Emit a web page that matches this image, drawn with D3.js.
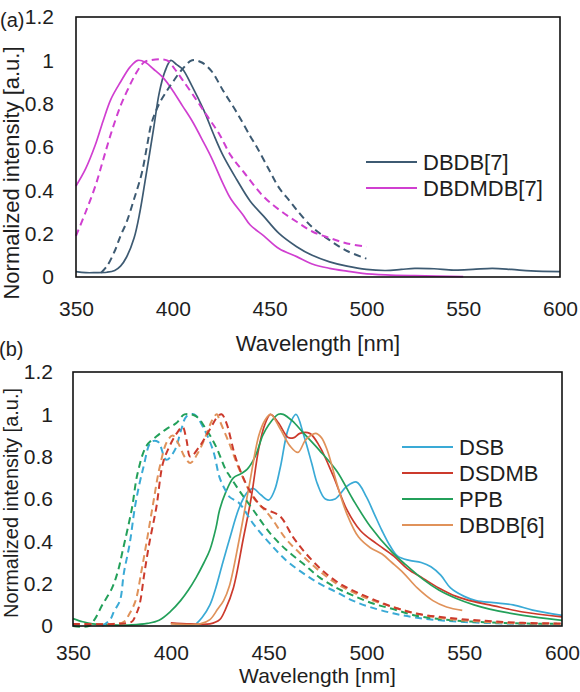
<!DOCTYPE html>
<html><head><meta charset="utf-8">
<script src="https://cdn.jsdelivr.net/npm/d3@7"></script>
<style>
body{margin:0;background:#fff}
svg{display:block}
text{font-family:"Liberation Sans",Arial,Helvetica,sans-serif;fill:#1e1e1e}
</style>
</head><body>
<svg id="chart" width="580" height="692"></svg>
<script>
// ---------- tick values ----------
const xTicks = [350, 400, 450, 500, 550, 600];
const yTicks = [0, 0.2, 0.4, 0.6, 0.8, 1, 1.2];
const xTitle = "Wavelength [nm]";
const yTitle = "Normalized intensity [a.u.]";

// ---------- panel (a) data : [wavelength, intensity] ----------
const dbdb7Solid = [[350,0.025],[355,0.02],[360,0.02],[366,0.022],[370,0.03],[373,0.05],[376,0.09],[380,0.18],[383,0.30],[386,0.46],[390,0.68],[393,0.85],[396,0.95],[399,1.0],[402,0.98],[405,0.96],[410,0.88],[416,0.77],[421,0.66],[426,0.56],[433,0.45],[440,0.35],[447,0.28],[455,0.20],[464,0.14],[472,0.10],[481,0.07],[490,0.05],[500,0.035],[510,0.03],[518,0.035],[525,0.04],[535,0.038],[545,0.032],[555,0.035],[565,0.04],[575,0.035],[585,0.028],[600,0.025]];
const dbdb7Dash = [[363,0.02],[366,0.05],[370,0.12],[373,0.19],[376,0.25],[380,0.36],[384,0.48],[387,0.62],[389,0.71],[393,0.80],[397,0.86],[400,0.90],[405,0.96],[410,1.0],[415,0.99],[420,0.95],[426,0.86],[433,0.76],[440,0.65],[444,0.59],[450,0.49],[455,0.41],[460,0.355],[464,0.31],[472,0.23],[481,0.17],[490,0.12],[500,0.085]];
const dbdmdb7Solid = [[350,0.42],[355,0.50],[360,0.61],[364,0.72],[368,0.82],[373,0.90],[378,0.97],[382,1.0],[386,0.99],[390,0.96],[395,0.92],[400,0.86],[405,0.79],[410,0.72],[416,0.62],[420,0.55],[426,0.43],[430,0.36],[436,0.29],[440,0.24],[447,0.19],[455,0.13],[464,0.094],[472,0.06],[481,0.04],[490,0.027],[498,0.017],[510,0.01],[525,0.006],[550,0.002]];
const dbdmdb7Dash = [[350,0.19],[355,0.30],[360,0.42],[364,0.54],[368,0.66],[373,0.79],[377,0.87],[381,0.94],[385,0.99],[388,1.0],[397,1.0],[401,0.96],[405,0.91],[412,0.82],[418,0.74],[424,0.66],[430,0.56],[437,0.48],[447,0.37],[455,0.31],[464,0.255],[472,0.21],[481,0.18],[490,0.155],[500,0.14]];

// ---------- panel (b) data ----------
const dsbSolid = [[413,0.01],[416,0.04],[420,0.10],[423,0.18],[426,0.28],[430,0.41],[435,0.56],[439,0.63],[442,0.65],[446,0.62],[450,0.595],[453,0.64],[456,0.75],[460,0.93],[464,1.0],[468,0.90],[472,0.77],[475,0.67],[479,0.60],[484,0.60],[490,0.66],[495,0.68],[500,0.61],[504,0.53],[508,0.45],[512,0.38],[516,0.33],[522,0.31],[528,0.30],[533,0.28],[538,0.24],[543,0.18],[550,0.14],[556,0.12],[565,0.11],[575,0.10],[585,0.075],[600,0.05]];
const dsdmbSolid = [[400,0.015],[410,0.01],[420,0.01],[425,0.03],[428,0.08],[432,0.18],[437,0.41],[441,0.60],[445,0.84],[448,0.95],[451,1.0],[455,0.96],[460,0.89],[463,0.89],[466,0.91],[471,0.91],[476,0.85],[483,0.71],[490,0.55],[497,0.45],[505,0.39],[514,0.33],[521,0.27],[529,0.225],[537,0.18],[546,0.14],[555,0.115],[563,0.10],[580,0.066],[600,0.043]];
const ppbSolid = [[350,0.035],[355,0.02],[360,0.01],[370,0.005],[380,0.005],[388,0.012],[394,0.027],[400,0.07],[405,0.12],[409,0.17],[413,0.23],[417,0.30],[420,0.36],[423,0.46],[425,0.55],[428,0.63],[432,0.70],[436,0.72],[439,0.74],[442,0.78],[444,0.82],[447,0.90],[450,0.95],[455,1.0],[457.5,1.0],[462,0.97],[468,0.91],[476,0.83],[485,0.73],[493,0.60],[502,0.47],[513,0.35],[520,0.29],[529,0.22],[537,0.17],[546,0.13],[555,0.10],[563,0.08],[580,0.05],[600,0.027]];
const dbdb6Solid = [[400,0.01],[415,0.01],[420,0.03],[424,0.08],[427,0.12],[430,0.19],[435,0.41],[440,0.66],[445,0.90],[448,0.97],[451,1.0],[456,0.93],[461,0.85],[465,0.82],[469,0.88],[474,0.91],[477,0.89],[480,0.83],[485,0.67],[490,0.53],[496,0.42],[502,0.37],[508,0.34],[513,0.30],[519,0.25],[526,0.18],[534,0.12],[541,0.09],[549,0.074]];
const dsbDash = [[365,0.0],[369,0.03],[371,0.07],[374,0.12],[376,0.25],[379,0.39],[382,0.58],[386,0.75],[390,0.87],[393.5,0.87],[397.7,0.785],[402,0.83],[405.4,0.93],[408,0.99],[412,1.0],[416.5,0.94],[421.6,0.83],[425,0.70],[428,0.64],[430,0.61],[435,0.58],[442,0.485],[450.6,0.39],[459,0.31],[467.6,0.25],[476,0.20],[484.7,0.16],[493,0.12],[501.7,0.09],[513.6,0.06],[525,0.04],[540,0.025],[560,0.015],[580,0.01],[600,0.008]];
const ppbDash = [[350,0.0],[358,0.0],[361,0.03],[365,0.10],[370,0.18],[373,0.26],[375.5,0.36],[380,0.55],[383,0.72],[387.5,0.85],[392.6,0.895],[397.7,0.93],[403,0.96],[407,1.0],[413,0.99],[418,0.93],[423,0.85],[428,0.74],[430,0.71],[435,0.64],[442,0.55],[450.6,0.44],[459,0.36],[467.6,0.295],[476,0.23],[484.7,0.18],[493,0.145],[503.4,0.106],[513.6,0.08],[525,0.05],[540,0.03],[560,0.018],[580,0.012],[600,0.01]];
const dbdb6Dash = [[350,0.01],[370,0.01],[376,0.02],[379,0.06],[382,0.12],[385,0.26],[387.5,0.39],[391,0.58],[394.3,0.75],[398,0.87],[401,0.90],[404,0.86],[407,0.80],[410,0.77],[414,0.82],[418,0.90],[421,0.97],[423.5,1.0],[425,0.97],[430,0.86],[435,0.74],[442,0.61],[450.6,0.52],[459,0.41],[467.6,0.33],[476,0.26],[484.7,0.20],[493,0.16],[503.4,0.12],[513.6,0.09],[525,0.06],[540,0.035],[560,0.02],[580,0.012],[600,0.01]];
const dsdmbDash = [[350,0.01],[372,0.01],[380,0.02],[382,0.05],[384,0.10],[386.5,0.25],[389,0.39],[392.6,0.56],[396,0.77],[399.4,0.85],[403,0.91],[406,0.94],[408,0.88],[410,0.80],[414.8,0.85],[420,0.93],[424,0.99],[426,1.0],[428.4,0.96],[433.5,0.785],[440.3,0.64],[447,0.56],[455.7,0.52],[462.5,0.42],[469.3,0.34],[477.8,0.26],[486.4,0.20],[494.9,0.16],[505,0.12],[515,0.085],[525,0.06],[540,0.04],[560,0.025],[580,0.015],[600,0.012]];

const legendA = ["DBDB[7]", "DBDMDB[7]"];
const legendB = ["DSB", "DSDMB", "PPB", "DBDB[6]"];

// ---------- styles ----------
const C = {slate:"#3d5a72", magenta:"#d03fd0", blue:"#3aaad6", red:"#cc3a2c", green:"#23a05a", orange:"#e0925a"};

const svg = d3.select("#chart");

function panel(o){
  const x = d3.scaleLinear().domain([350,600]).range([o.left,o.right]);
  const y = d3.scaleLinear().domain([0,1.2]).range([o.bottom,o.top]);
  const g = svg.append("g");

  const line = d3.line().x(d=>x(d[0])).y(d=>y(d[1])).curve(d3.curveCatmullRom.alpha(0.5));
  o.series.forEach(s=>{
    g.append("path").datum(s.data)
      .attr("fill","none").attr("stroke",s.color)
      .attr("stroke-width",s.dash?2:1.7)
      .attr("stroke-dasharray",s.dash?"7,4.5":null)
      .attr("stroke-linejoin","round")
      .attr("d",line);
  });

  // frame
  g.append("rect").attr("x",o.left).attr("y",o.top)
    .attr("width",o.right-o.left).attr("height",o.bottom-o.top)
    .attr("fill","none").attr("stroke","#111").attr("stroke-width",1.6);

  const xa = g.append("g").attr("transform",`translate(0,${o.bottom})`)
    .call(d3.axisBottom(x).tickValues(xTicks).tickSize(0).tickPadding(o.xPad).tickFormat(d=>d));
  xa.select(".domain").remove();
  xa.selectAll("text").style("font-size","21px").attr("fill","#1e1e1e").style("font-family","'Liberation Sans',Arial,sans-serif");

  const ya = g.append("g").attr("transform",`translate(${o.left},0)`)
    .call(d3.axisLeft(y).tickValues(yTicks).tickSize(0).tickPadding(o.yPad).tickFormat(d=>String(d)));
  ya.select(".domain").remove();
  ya.selectAll("text").style("font-size","21px").attr("fill","#1e1e1e").style("font-family","'Liberation Sans',Arial,sans-serif");

  g.append("text").attr("x",(o.left+o.right)/2).attr("y",o.xTitleY)
    .attr("text-anchor","middle").style("font-size",o.titleSize+"px").text(xTitle);
  g.append("text").attr("transform",`translate(${o.yTitleX},${o.yTitleC}) rotate(-90)`)
    .attr("text-anchor","middle").style("font-size",o.yTitleSize+"px").text(yTitle);
  g.append("text").attr("x",o.tagX).attr("y",o.tagY).style("font-size","20px").text(o.tag);

  // legend
  o.legend.forEach((name,i)=>{
    const s = o.series[i];
    const ly = o.legY + i*o.legStep;
    g.append("line").attr("x1",o.legX1).attr("x2",o.legX2).attr("y1",ly).attr("y2",ly)
      .attr("stroke",s.color).attr("stroke-width",2);
    g.append("text").attr("x",o.legX2+6).attr("y",ly).attr("dy","0.36em")
      .style("font-size","22px").text(name);
  });
}

panel({
  left:76, right:560, top:17, bottom:277, xPad:24, yPad:22,
  xTitleY:351, titleSize:22, yTitleX:19, yTitleC:173, yTitleSize:22,
  tag:"(a)", tagX:0, tagY:27,
  legend:legendA, legX1:366, legX2:417, legY:162, legStep:26,
  series:[
    {data:dbdb7Solid, color:C.slate},
    {data:dbdmdb7Solid, color:C.magenta},
    {data:dbdb7Dash, color:C.slate, dash:true},
    {data:dbdmdb7Dash, color:C.magenta, dash:true}
  ]
});

panel({
  left:73, right:562, top:372, bottom:626, xPad:19, yPad:20,
  xTitleY:683, titleSize:21, yTitleX:18, yTitleC:503, yTitleSize:20,
  tag:"(b)", tagX:-1, tagY:356,
  legend:legendB, legX1:402, legX2:453, legY:447, legStep:26,
  series:[
    {data:dsbSolid, color:C.blue},
    {data:dsdmbSolid, color:C.red},
    {data:ppbSolid, color:C.green},
    {data:dbdb6Solid, color:C.orange},
    {data:dsbDash, color:C.blue, dash:true},
    {data:ppbDash, color:C.green, dash:true},
    {data:dbdb6Dash, color:C.orange, dash:true},
    {data:dsdmbDash, color:C.red, dash:true}
  ]
});
</script>
</body></html>
